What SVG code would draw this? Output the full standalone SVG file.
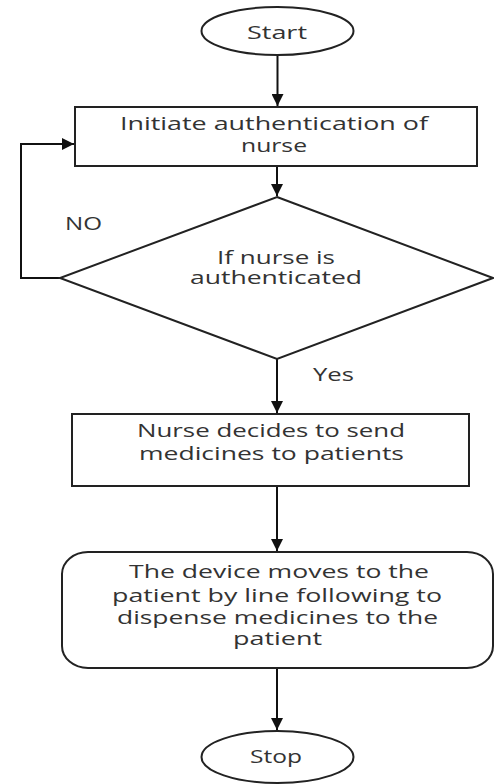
<svg xmlns="http://www.w3.org/2000/svg" width="494" height="784" viewBox="0 0 494 784">
<style>
.shape{fill:#fff;stroke:#222;stroke-width:2}
.conn{fill:none;stroke:#111;stroke-width:2}
text{font-family:"Open Sans","Noto Sans","DejaVu Sans",sans-serif;font-size:18px;fill:#333;text-anchor:middle}
</style>
<defs>
<marker id="arr" markerUnits="userSpaceOnUse" markerWidth="12" markerHeight="12" refX="10" refY="5" orient="auto" viewBox="0 0 10 10">
<path d="M0,0 L10,5 L0,10 z" fill="#111"/>
</marker>
</defs>
<rect width="494" height="784" fill="#fff"/>
<g id="connectors">
<line class="conn" x1="277.5" y1="55" x2="277.5" y2="106" marker-end="url(#arr)"/>
<line class="conn" x1="277" y1="167" x2="277" y2="196" marker-end="url(#arr)"/>
<line class="conn" x1="277" y1="359" x2="277" y2="413" marker-end="url(#arr)"/>
<line class="conn" x1="277" y1="487" x2="277" y2="551" marker-end="url(#arr)"/>
<line class="conn" x1="277" y1="669" x2="277" y2="730" marker-end="url(#arr)"/>
<polyline class="conn" points="60,278 21,278 21,144 74,144" marker-end="url(#arr)"/>
<text x="83.5" y="230" textLength="37" lengthAdjust="spacingAndGlyphs">NO</text>
<text x="333.5" y="381" textLength="41" lengthAdjust="spacingAndGlyphs">Yes</text>
</g>
<g id="start">
<ellipse class="shape" cx="277.5" cy="31" rx="76" ry="24"/>
<text x="277" y="39" textLength="60" lengthAdjust="spacingAndGlyphs">Start</text>
</g>
<g id="initiate">
<rect class="shape" x="75" y="107" width="402" height="59"/>
<text x="274" y="130" textLength="308" lengthAdjust="spacingAndGlyphs">Initiate authentication of</text>
<text x="274" y="152" textLength="66" lengthAdjust="spacingAndGlyphs">nurse</text>
</g>
<g id="decision">
<polygon class="shape" points="277,197 493,278 277,359 60,278"/>
<text x="276" y="264" textLength="118" lengthAdjust="spacingAndGlyphs">If nurse is</text>
<text x="276" y="284" textLength="172" lengthAdjust="spacingAndGlyphs">authenticated</text>
</g>
<g id="decides">
<rect class="shape" x="72" y="414" width="397" height="72"/>
<text x="271" y="437" textLength="268" lengthAdjust="spacingAndGlyphs">Nurse decides to send</text>
<text x="271.5" y="460" textLength="265" lengthAdjust="spacingAndGlyphs">medicines to patients</text>
</g>
<g id="device">
<rect class="shape" x="62" y="552" width="431" height="116" rx="26" ry="22"/>
<text x="279" y="578" textLength="300" lengthAdjust="spacingAndGlyphs">The device moves to the</text>
<text x="277" y="602" textLength="330" lengthAdjust="spacingAndGlyphs">patient by line following to</text>
<text x="277.5" y="624" textLength="321" lengthAdjust="spacingAndGlyphs">dispense medicines to the</text>
<text x="277.5" y="645" textLength="89" lengthAdjust="spacingAndGlyphs">patient</text>
</g>
<g id="stop">
<ellipse class="shape" cx="277.5" cy="757" rx="76" ry="26"/>
<text x="276" y="763" textLength="52" lengthAdjust="spacingAndGlyphs">Stop</text>
</g>
</svg>
